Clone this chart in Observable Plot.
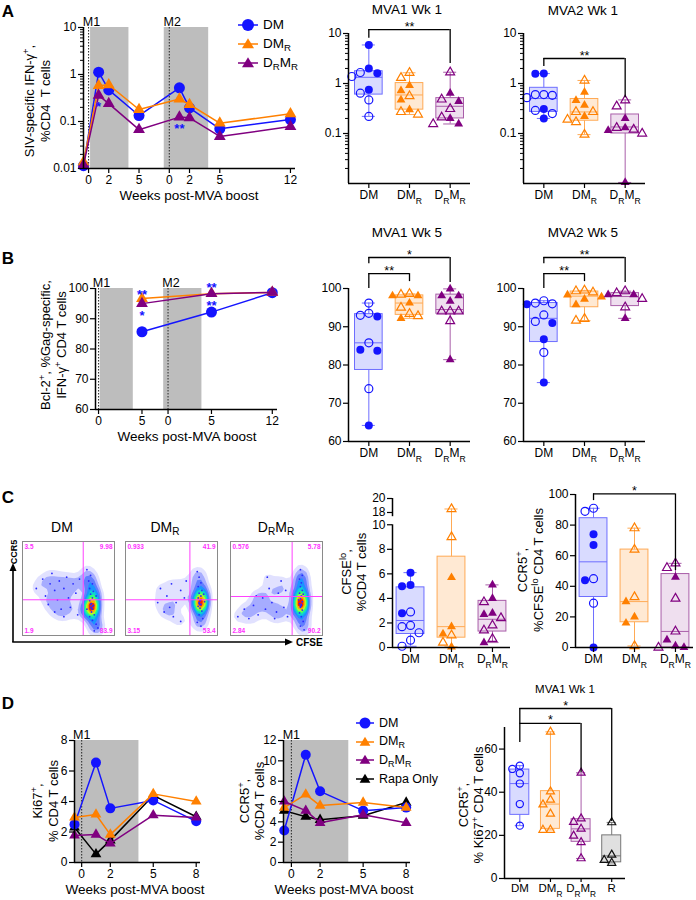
<!DOCTYPE html>
<html><head><meta charset="utf-8">
<script src="https://cdn.jsdelivr.net/npm/d3@7"></script>
<script src="https://cdn.jsdelivr.net/npm/@observablehq/plot@0.6"></script>
<style>
html,body{margin:0;padding:0;background:#fff;}
#fig{position:relative;width:696px;height:900px;overflow:hidden;font-family:"Liberation Sans",Arial,Helvetica,sans-serif;color:#000;}
#fig .t{position:absolute;white-space:nowrap;transform:translate(-50%,-50%);line-height:1;}
#fig .v{position:absolute;white-space:nowrap;transform:translate(-50%,-50%) rotate(-90deg);line-height:1;}
#fig sub{font-size:72%;vertical-align:-0.28em;line-height:0;}
#fig sup{font-size:72%;vertical-align:0.5em;line-height:0;}
#fig .leg{position:absolute;display:flex;align-items:center;white-space:nowrap;transform:translateY(-50%);line-height:1;}
</style></head><body><div id="fig"></div>
<script>
// ================= DATA =================
// Panel A (line): SIV-specific IFN-γ+ %CD4 T cells
const timePhase = ["M1","M1","M1","M1","M2","M2","M2","M2"];
const timeWeek  = [-0.5, 1, 2, 5, 1, 2, 5, 12];
const aDM   = [0.0115, 1.12, 0.47, 0.134, 0.52, 0.195, 0.070, 0.11];
const aDMR  = [0.0137, 0.58, 0.60, 0.18, 0.30, 0.23, 0.092, 0.146];
const aDRMR = [0.0118, 0.36, 0.24, 0.067, 0.124, 0.12, 0.048, 0.078];
const aTickPhase = ["M1","M1","M1","M2","M2","M2","M2"];
const aTickWeek  = [0, 2, 5, 0, 2, 5, 12];
const aStarPhase = ["M1","M2"], aStarWeek = [1, 1], aStarY = [0.21, 0.071], aStarText = ["*","**"];
const shadePhase = ["M1","M2"], shadeStart = [0.2, -0.5], shadeEnd = [4, 3.9];

// Panel A boxes (MVA1 Wk 1, MVA2 Wk 1): box = [min, q1, median, q3, max]
const A1 = {
  filled: [[5.9, 2.0, 1.6, 0.75], [0.91, 0.72, 0.47, 0.30], [0.64, 0.44, 0.2, 0.155]],
  open:   [[1.66, 1.38, 0.64, 0.47, 0.22], [1.64, 1.3, 0.56, 0.27, 0.24], [1.68, 0.48, 0.31, 0.21, 0.155]],
  box:    [[0.22, 0.6, 1.33, 1.76, 5.9], [0.24, 0.30, 0.59, 1.02, 1.64], [0.155, 0.2, 0.35, 0.51, 1.68]],
  brackets: [{from: 0, to: 2, y: 12, yFrom: 8, yTo: 2.5, label: "**"}]
};
const A2 = {
  filled: [[1.58, 1.56, 0.31, 0.2], [0.67, 0.46, 0.37, 0.22], [0.2, 0.13, 0.115, 0.0105]],
  open:   [[0.6, 0.6, 0.58, 0.52, 0.29, 0.25], [1.15, 0.27, 0.27, 0.19, 0.17, 0.095], [0.46, 0.35, 0.13, 0.12, 0.1]],
  box:    [[0.2, 0.27, 0.5, 0.82, 1.58], [0.095, 0.18, 0.27, 0.49, 1.15], [0.0105, 0.1, 0.135, 0.24, 0.47]],
  brackets: [{from: 0, to: 2, y: 3.16, yFrom: 2.2, yTo: 0.52, label: "**"}]
};

// Panel B (line): Bcl-2+ % of Gag-specific IFN-γ+ CD4 T cells
const bPhase = ["M1","M2","M2"], bWeek = [5, 5, 12];
const bDM   = [85.7, 92.2, 98.6];
const bDMR  = [96.7, 98.3, 98.7];
const bDRMR = [95.0, 98.3, 98.7];
const bTickPhase = ["M1","M1","M2","M2","M2"], bTickWeek = [0, 5, 0, 5, 12];
const bStarPhase = ["M1","M1","M2","M2"], bStarWeek = [5, 5, 5, 5], bStarY = [98.0, 91.1, 100.3, 94.4], bStarText = ["**","*","**","**"];

const B1 = {
  filled: [[92.7, 84.0, 83.7, 64.2], [98.1, 98.1, 96.2, 92.2], [99.9, 98.1, 98.1, 96.7, 81.4]],
  open:   [[96.2, 93.5, 93.0, 85.8, 73.8], [98.6, 98.4, 95.0, 93.4, 92.8], [94.0, 94.0, 94.0, 91.5]],
  box:    [[64.2, 78.7, 85.8, 93.3, 96.2], [92.2, 93.1, 96.2, 98.2, 98.6], [81.4, 93.4, 94.5, 98.4, 99.9]],
  brackets: [{from: 0, to: 1, y: 103.9, yFrom: 100, yTo: 101.8, label: "**"}, {from: 0, to: 2, y: 108.1, yFrom: 106.5, yTo: 101.6, label: "*"}]
};
const B2 = {
  filled: [[95.9, 91.0, 86.7, 75.4], [98.3, 97.8, 97.2, 95.8], [98.4, 98.4, 92.2]],
  open:   [[96.8, 96.2, 96.0, 93.1, 91.4, 83.3], [99.5, 99.3, 99.0, 92.1, 91.6], [99.3, 98.8, 97.3, 95.1]],
  box:    [[75.4, 86.0, 92.2, 96.2, 96.8], [91.6, 95.1, 98.0, 99.2, 99.5], [92.2, 95.4, 97.9, 98.8, 99.3]],
  brackets: [{from: 0, to: 1, y: 103.9, yFrom: 100, yTo: 101.8, label: "**"}, {from: 0, to: 2, y: 108.1, yFrom: 106.5, yTo: 101.6, label: "**"}]
};

// Panel C flow plots: representative events [CFSE %, CCR5 %], gates, quadrant percentages
const flowDM = [[15,50],[22,60],[25,42],[30,55],[32,66],[35,48],[38,38],[40,58],[42,28],[45,50],[48,62],[50,40],[52,30],[55,55],[58,45],[60,22],[35,25],[28,33],[45,20],[62,60],
  [70,70],[74,64],[72,58],[76,55],[73,50],[77,47],[74,44],[76,40],[73,37],[75,34],[77,32],[74,30],[76,28],[75,25],[78,22],[73,20],[76,16],[80,12],[82,8],[78,5],[80,42],[70,28],[74,33],[76,31],[75,29]];
const flowDMR = [[38,50],[45,42],[50,55],[55,35],[60,48],[64,40],[42,25],[52,20],[60,15],[48,30],[66,58],[35,35],
  [78,68],[80,62],[82,56],[79,52],[83,48],[80,45],[82,42],[79,40],[81,37],[80,35],[82,33],[79,31],[81,29],[83,26],[80,22],[84,18],[78,14],[82,10],[86,36],[85,44],[80,34],[81,33]];
const flowDRMR = [[8,20],[15,28],[20,18],[25,32],[30,22],[35,40],[38,28],[42,50],[45,35],[48,18],[52,45],[55,58],[58,30],[60,48],[62,20],[40,62],[28,42],[50,25],
  [76,70],[78,64],[75,60],[77,56],[76,52],[78,48],[75,45],[77,42],[76,39],[78,36],[75,34],[77,32],[76,30],[78,27],[75,24],[77,20],[79,15],[76,10],[80,6],[74,38],[79,44],[77,33],[76,31]];
const flowGateX = [66, 70, 67], flowGateY = [38, 38, 41.5];
const flowQuads = [["3.5","9.98","1.9","83.9"], ["0.933","41.9","3.15","53.4"], ["0.576","5.78","2.84","90.2"]];

// Panel C boxes
const C1 = { // CFSElo %CD4 T cells (broken axis)
  filled: [[6.1, 5.1, 5.0, 2.8], [5.7, 1.7, 1.1, 0.05], [5.1, 4.0, 2.8, 2.7, 0.4]],
  open:   [[2.9, 1.8, 1.7, 1.2, 0.6, 0.1], [18.5, 9.0, 1.0, 0.4], [3.7, 2.4, 1.8, 1.4, 0.7]],
  box:    [[0.1, 1.1, 2.2, 4.9, 6.1], [0.05, 0.8, 1.7, 7.4, 18.5], [0.4, 1.3, 2.3, 3.8, 5.1]]
};
const C2 = { // CCR5+ %CFSElo CD4 T cells
  filled: [[74, 67, 44, 0], [30, 20, 16], [46, 5, 1, 0]],
  open:   [[91, 89, 45, 29], [78, 64, 33, 1], [55, 52, 32, 10.5, 0]],
  box:    [[0, 33, 56, 84.5, 91], [1, 16.5, 30, 64, 78], [0, 0, 10.5, 48, 55]],
  brackets: [{from: 0, to: 2, y: 100.4, yFrom: 96, yTo: 50.3, label: "*"}]
};

// Panel D lines
const dWeek = [-0.5, 1, 2, 5, 8];
const kiDM = [2.5, 6.55, 3.55, 4.07, 2.7];
const kiDMR = [2.95, 3.15, 1.83, 4.5, 4.0];
const kiDRMR = [1.77, 1.83, 1.25, 3.1, 2.95];
const kiRapa = [2.3, 0.55, 1.45, 4.4, 3.0];
const ccDM = [3.15, 10.6, 7.0, 5.1, 5.4];
const ccDMR = [5.4, 6.7, 5.6, 5.9, 5.4];
const ccDRMR = [6.0, 5.1, 3.9, 4.7, 3.9];
const ccRapa = [5.1, 4.5, 4.2, 4.6, 5.9];

// Panel D box: CCR5+ % Ki67+ CD4 T cells, MVA1 Wk 1
const D1 = {
  open: [[52.3, 50.8, 48.8, 44, 34.5, 24.5], [68, 40.3, 36.5, 34.3, 30, 22.5, 22.5], [49, 27.8, 26.2, 23, 19.8, 16.8, 9.3], [26, 11, 8.5, 7.2]],
  box:  [[24.5, 29.5, 44, 50.5, 52.3], [22.5, 23, 34.5, 40.5, 68], [9.3, 17, 23, 27.5, 49], [7.2, 7.5, 10.5, 20, 26]],
  brackets: [{from: 0, to: 3, y: 78.8, yFrom: 71.9, yTo: 26.4, label: "*"}, {from: 0, to: 2, y: 71.9, yFrom: 63, yTo: 49.1, label: "*"}]
};

// ================= STYLE / HELPERS =================
const FONT = '"Liberation Sans", Arial, Helvetica, sans-serif';
const BLUE = "#1414ff", ORANGE = "#ff8000", PURPLE = "#800080";
const GS = {
  DM:   {color: BLUE,   fill: "#d9dbff", edge: "#6e6eff", symbol: "circle"},
  DMR:  {color: ORANGE, fill: "#ffe9d3", edge: "#ffaa55", symbol: "triangle"},
  DRMR: {color: PURPLE, fill: "#efdfef", edge: "#a95ea9", symbol: "triangle"},
  R:    {color: "#111", fill: "#e0e0e0", edge: "#777", symbol: "triangle"},
  Rapa: {color: "#000", symbol: "triangle"}
};
const GL = {DM: "DM", DMR: "DM_{R}", DRMR: "D_{R}M_{R}", R: "R"};
const STYLE = {fontFamily: FONT, fontSize: "12px", color: "#000", background: "transparent", overflow: "visible"};
const M2_OFFSET = 8;
const pos = (phase, week) => (phase === "M2" ? M2_OFFSET : 0) + week;
const minorLog = [0.01, 0.1, 1].flatMap(d => d3.range(2, 10).map(k => +(k * d).toPrecision(3)));

const fig = document.getElementById("fig");
function richify(root) {
  root.querySelectorAll("text, tspan").forEach(t => {
    if (t.children.length) return;
    const s = t.textContent;
    if (!/[_^]\{/.test(s)) return;
    t.textContent = "";
    const re = /([_^])\{([^}]*)\}/g; let last = 0, m;
    const add = (str, kind) => {
      if (!str) return;
      const ts = document.createElementNS("http://www.w3.org/2000/svg", "tspan");
      ts.textContent = str;
      if (kind) { ts.setAttribute("font-size", "0.72em"); ts.setAttribute("baseline-shift", kind === "_" ? "sub" : "super"); }
      t.appendChild(ts);
    };
    while ((m = re.exec(s))) { add(s.slice(last, m.index)); add(m[2], m[1]); last = re.lastIndex; }
    add(s.slice(last));
  });
}
function put(node, left, top) {
  node.style.position = "absolute"; node.style.left = left + "px"; node.style.top = top + "px";
  fig.appendChild(node); richify(node); return node;
}
function label(html, cx, cy, size, vertical) {
  const d = document.createElement("div");
  d.className = vertical ? "v" : "t";
  d.style.left = cx + "px"; d.style.top = cy + "px"; d.style.fontSize = size + "px";
  d.innerHTML = html; fig.appendChild(d);
}
function legend(items, left, top, gap, size, symW) {
  items.forEach((it, k) => {
    const st = GS[it.key];
    const c = symW / 2;
    const sym = st.symbol === "circle"
      ? `<circle cx="${c}" cy="7" r="${it.r}" fill="${st.color}"/>`
      : `<path d="M${c},${7 - it.r * 1.15}L${c + it.r * 1.2},${7 + it.r * 0.85}L${c - it.r * 1.2},${7 + it.r * 0.85}Z" fill="${st.color}"/>`;
    const d = document.createElement("div");
    d.className = "leg";
    d.style.left = left + "px"; d.style.top = (top + k * gap) + "px"; d.style.fontSize = size + "px";
    d.innerHTML = `<svg width="${symW}" height="14" style="margin-right:5px;overflow:visible"><line x1="0" y1="7" x2="${symW}" y2="7" stroke="${st.color}" stroke-width="1.5"/>${sym}</svg><span>${it.html}</span>`;
    fig.appendChild(d);
  });
}
function swarm(ys, step) {
  const order = ys.map((_, i) => i).sort((a, b) => ys[a] - ys[b] || a - b);
  const placed = [], out = [];
  for (const i of order) {
    let off = 0;
    for (let k = 0; k < 40; k++) {
      const c = k === 0 ? 0 : (k % 2 ? -1 : 1) * Math.ceil(k / 2) * step;
      if (placed.every(p => Math.hypot(p[0] - c, p[1] - ys[i]) >= step - 0.01)) { off = c; break; }
    }
    placed.push([off, ys[i]]); out[i] = off;
  }
  return out;
}

function lineChart(o) {
  const marks = [
    Plot.rect(o.shades, {x1: "x1", x2: "x2", y1: o.yDomain[0], y2: o.yDomain[1], fill: "#bdbdbd"}),
    Plot.ruleX(o.dotted, {stroke: "#333", strokeWidth: 1.1, strokeDasharray: "1.5,1.5"})
  ];
  for (const s of o.series) {
    const st = GS[s.key];
    const rows = s.values.map((v, i) => ({x: o.x[i], y: v}));
    marks.push(Plot.line(rows, {x: "x", y: "y", stroke: st.color, strokeWidth: 1.5}));
    marks.push(Plot.dot(rows, {x: "x", y: "y", symbol: st.symbol, r: st.symbol === "circle" ? o.rc : o.rt, fill: st.color, stroke: "none"}));
  }
  if (o.stars) marks.push(Plot.text(o.stars, {x: "x", y: "y", text: "text", fill: BLUE, fontSize: 13, fontWeight: "bold"}));
  marks.push(Plot.text(o.phases, {x: "x", text: "label", frameAnchor: "top", lineAnchor: "bottom", dy: -2, dx: o.phaseDx, fontSize: 12.5}));
  marks.push(Plot.ruleX([o.xDomain[0]], {strokeWidth: 1.5}));
  marks.push(Plot.ruleY([o.yDomain[0]], {strokeWidth: 1.5}));
  const yl = new Map(o.yTicks.map((v, i) => [v, o.yTickLabels[i]]));
  marks.push(Plot.axisY({ticks: o.yTicks, tickFormat: v => yl.get(v), tickSize: 5, tickPadding: 2, label: null, strokeWidth: 1.2}));
  if (o.yMinor) marks.push(Plot.axisY({ticks: o.yMinor, tickFormat: () => "", tickSize: 3, label: null, strokeWidth: 1}));
  const xl = new Map(o.xTicks.map((v, i) => [v, o.xTickLabels[i]]));
  marks.push(Plot.axisX({ticks: o.xTicks, tickFormat: v => xl.get(v), tickSize: 5, tickPadding: 2, label: null, strokeWidth: 1.2}));
  return Plot.plot({width: o.width, height: o.height, marginLeft: o.mL, marginRight: o.mR, marginTop: o.mT, marginBottom: o.mB,
    x: {domain: o.xDomain, axis: null}, y: {type: o.yType || "linear", domain: o.yDomain, axis: null}, style: STYLE, marks});
}

function boxChart(o) {
  const tf = o.tf || (v => v);
  const yType = o.yType || "linear";
  const yDom = o.yDomain.map(tf);
  const ypx = (yType === "log" ? d3.scaleLog() : d3.scaleLinear()).domain(yDom).range([o.height - o.mB, o.mT]);
  const upp = (o.xDomain[1] - o.xDomain[0]) / (o.width - o.mL - o.mR);
  const marks = [];
  o.groups.forEach((g, i) => {
    const st = GS[g];
    const b = o.box[i].map(tf);
    const row = [{i, min: b[0], q1: b[1], med: b[2], q3: b[3], max: b[4]}];
    marks.push(
      Plot.rect(row, {x1: d => d.i - o.half, x2: d => d.i + o.half, y1: "q1", y2: "q3", fill: st.fill, stroke: st.edge, strokeWidth: 1}),
      Plot.ruleX(row, {x: "i", y1: "q3", y2: "max", stroke: st.edge, strokeWidth: 1}),
      Plot.ruleX(row, {x: "i", y1: "min", y2: "q1", stroke: st.edge, strokeWidth: 1}),
      Plot.ruleY(row, {x1: d => d.i - o.cap, x2: d => d.i + o.cap, y: "max", stroke: st.edge, strokeWidth: 1}),
      Plot.ruleY(row, {x1: d => d.i - o.cap, x2: d => d.i + o.cap, y: "min", stroke: st.edge, strokeWidth: 1}),
      Plot.ruleY(row, {x1: d => d.i - o.half, x2: d => d.i + o.half, y: "med", stroke: st.edge, strokeWidth: 1})
    );
    const vals = [...(o.filled ? o.filled[i] : []).map(v => ({v, f: true})), ...o.open[i].map(v => ({v, f: false}))];
    const offs = swarm(vals.map(d => ypx(tf(d.v))), o.step);
    const pts = vals.map((d, j) => ({x: i + offs[j] * upp, y: tf(d.v), f: d.f}));
    const r = st.symbol === "circle" ? o.rc : o.rt;
    marks.push(
      Plot.dot(pts.filter(d => d.f), {x: "x", y: "y", symbol: st.symbol, r, fill: st.color, stroke: "none"}),
      Plot.dot(pts.filter(d => !d.f), {x: "x", y: "y", symbol: st.symbol, r, fill: "none", stroke: st.color, strokeWidth: 1.2})
    );
  });
  (o.brackets || []).forEach(bk => {
    const row = [bk];
    marks.push(
      Plot.ruleY(row, {x1: "from", x2: "to", y: "y", strokeWidth: 1.3}),
      Plot.ruleX(row, {x: "from", y1: "yFrom", y2: "y", strokeWidth: 1.3}),
      Plot.ruleX(row, {x: "to", y1: "yTo", y2: "y", strokeWidth: 1.3}),
      Plot.text(row, {x: d => (d.from + d.to) / 2, y: "y", text: "label", dy: -3, fontSize: 12.5})
    );
  });
  const segs = o.axisSegments || [o.yDomain];
  segs.forEach(s => marks.push(Plot.ruleX([o.xDomain[0]], {y1: tf(s[0]), y2: tf(s[1]), strokeWidth: 1.5})));
  marks.push(Plot.ruleY([yDom[0]], {strokeWidth: 1.5}));
  const yl = new Map(o.yTicks.map((v, i) => [tf(v), o.yTickLabels[i]]));
  marks.push(Plot.axisY({ticks: o.yTicks.map(tf), tickFormat: v => yl.get(v), tickSize: 5, tickPadding: 2, label: null, strokeWidth: 1.2}));
  if (o.yMinor) marks.push(Plot.axisY({ticks: o.yMinor, tickFormat: () => "", tickSize: 3, label: null, strokeWidth: 1}));
  marks.push(Plot.axisX({ticks: o.groups.map((_, i) => i), tickFormat: i => GL[o.groups[i]], tickSize: o.xTickSize ?? 5,
    tickPadding: o.xTickPadding ?? 2, fontSize: o.xFont ?? 12, label: null, strokeWidth: 1.2}));
  return Plot.plot({width: o.width, height: o.height, marginLeft: o.mL, marginRight: o.mR, marginTop: o.mT, marginBottom: o.mB,
    x: {domain: o.xDomain, axis: null}, y: {type: yType, domain: yDom, axis: null}, style: STYLE, marks});
}

const jetStops = ["rgba(50,50,255,0)", "rgba(50,50,255,0.22)", "rgba(40,90,255,0.55)", "#00b8ff", "#2cff7a", "#ffee00", "#ff2000"];
const jet = d3.piecewise(d3.interpolateRgb, jetStops);
function flowPlot(events, gx, gy, q) {
  const ex = events.map(d => ({x: d[0], y: d[1]}));
  const marks = [];
  if (Plot.density) marks.push(Plot.density(ex, {x: "x", y: "y", fill: "density", bandwidth: 3.6, thresholds: 10, clip: true}));
  marks.push(Plot.dot(ex, {x: "x", y: "y", r: 0.9, fill: "#2b2bff"}));
  marks.push(Plot.ruleX([gx], {stroke: "#ff40ff", strokeWidth: 1}), Plot.ruleY([gy], {stroke: "#ff40ff", strokeWidth: 1}));
  [["top-left", 2, 3, "start"], ["top-right", -2, 3, "end"], ["bottom-left", 2, -3, "start"], ["bottom-right", -2, -3, "end"]].forEach(([fa, dx, dy, ta], k) =>
    marks.push(Plot.text([q[k]], {text: d => d, frameAnchor: fa, dx, dy, textAnchor: ta, fill: "#ff30ff", fontSize: 6.5, fontWeight: "bold"})));
  marks.push(Plot.frame({stroke: "#8a8a8a"}));
  return Plot.plot({width: 94, height: 96, margin: 1, x: {domain: [0, 100], axis: null}, y: {domain: [0, 100], axis: null},
    color: {type: "linear", interpolate: jet}, style: STYLE, marks});
}

// ================= PANEL A =================
const shades = shadePhase.map((p, i) => ({x1: pos(p, shadeStart[i]), x2: pos(p, shadeEnd[i])}));
put(lineChart({
  width: 300, height: 200, mL: 83, mR: 5, mT: 27, mB: 32,
  xDomain: [-0.5, 20.5], yType: "log", yDomain: [0.01, 10],
  yTicks: [0.01, 0.1, 1, 10], yTickLabels: ["0.01", "0.1", "1", "10"], yMinor: minorLog,
  x: timePhase.map((p, i) => pos(p, timeWeek[i])),
  series: [{key: "DM", values: aDM}, {key: "DMR", values: aDMR}, {key: "DRMR", values: aDRMR}],
  shades, dotted: [pos("M1", 0), pos("M2", 0)],
  phases: [{x: pos("M1", 0), label: "M1"}, {x: pos("M2", 0), label: "M2"}], phaseDx: 3,
  stars: aStarPhase.map((p, i) => ({x: pos(p, aStarWeek[i]), y: aStarY[i], text: aStarText[i]})),
  xTicks: aTickPhase.map((p, i) => pos(p, aTickWeek[i])), xTickLabels: aTickWeek.map(String),
  rc: 5.5, rt: 4.4
}), 0, 0);

const boxCommon = {groups: ["DM", "DMR", "DRMR"], half: 0.34, cap: 0.16, rc: 4, rt: 3.3, step: 8.5};
put(boxChart({...boxCommon, ...A1, yType: "log", yDomain: [0.01, 10], yTicks: [0.1, 1, 10], yTickLabels: ["0.1", "1", "10"], yMinor: minorLog,
  width: 180, height: 205, mL: 48, mR: 10, mT: 33, mB: 22, xDomain: [-0.5, 2.5]}), 300, 0);
put(boxChart({...boxCommon, ...A2, yType: "log", yDomain: [0.01, 10], yTicks: [0.1, 1, 10], yTickLabels: ["0.1", "1", "10"], yMinor: minorLog,
  width: 180, height: 205, mL: 48, mR: 10, mT: 33, mB: 22, xDomain: [-0.5, 2.5]}), 475, 0);

// ================= PANEL B =================
put(lineChart({
  width: 290, height: 160, mL: 95, mR: 13, mT: 18, mB: 21,
  xDomain: [-0.35, 20.6], yDomain: [60, 100],
  yTicks: [60, 70, 80, 90, 100], yTickLabels: ["60", "70", "80", "90", "100"],
  x: bPhase.map((p, i) => pos(p, bWeek[i])),
  series: [{key: "DM", values: bDM}, {key: "DMR", values: bDMR}, {key: "DRMR", values: bDRMR}],
  shades, dotted: [pos("M1", 0), pos("M2", 0)],
  phases: [{x: pos("M1", 0), label: "M1"}, {x: pos("M2", 0), label: "M2"}], phaseDx: 3,
  stars: bStarPhase.map((p, i) => ({x: pos(p, bStarWeek[i]), y: bStarY[i], text: bStarText[i]})),
  xTicks: bTickPhase.map((p, i) => pos(p, bTickWeek[i])), xTickLabels: bTickWeek.map(String),
  rc: 5.5, rt: 4.4
}), 0, 270);

const bTicks = [60, 70, 80, 90, 100];
put(boxChart({...boxCommon, ...B1, yDomain: [60, 100], yTicks: bTicks, yTickLabels: bTicks.map(String),
  width: 180, height: 250, mL: 48, mR: 10, mT: 73, mB: 24, xDomain: [-0.5, 2.5]}), 300, 215);
put(boxChart({...boxCommon, ...B2, yDomain: [60, 100], yTicks: bTicks, yTickLabels: bTicks.map(String),
  width: 180, height: 250, mL: 48, mR: 10, mT: 73, mB: 24, xDomain: [-0.5, 2.5]}), 475, 215);

// ================= PANEL C =================
put(flowPlot(flowDM, flowGateX[0], flowGateY[0], flowQuads[0]), 21, 540);
put(flowPlot(flowDMR, flowGateX[1], flowGateY[1], flowQuads[1]), 124, 540);
put(flowPlot(flowDRMR, flowGateX[2], flowGateY[2], flowQuads[2]), 229, 540);
const cf = v => v <= 10 ? v : 11.0 + (v - 18) * 0.57;
const cfTicks = [0, 2, 4, 6, 8, 10, 18, 20];
put(boxChart({...boxCommon, ...C1, tf: cf, yDomain: [0, 20], yTicks: cfTicks, yTickLabels: cfTicks.map(String),
  axisSegments: [[0, 10], [17.4, 20]],
  width: 175, height: 180, mL: 52, mR: 5, mT: 8, mB: 23, xDomain: [-0.44, 2.44]}), 340, 490);
const ccTicks = [0, 20, 40, 60, 80, 100];
put(boxChart({...boxCommon, ...C2, yDomain: [0, 100], yTicks: ccTicks, yTickLabels: ccTicks.map(String),
  width: 181, height: 190, mL: 60, mR: 3, mT: 14, mB: 23, xDomain: [-0.44, 2.44]}), 515, 480);

// ================= PANEL D =================
put(lineChart({
  width: 210, height: 180, mL: 74, mR: 10, mT: 20, mB: 38,
  xDomain: [-0.5, 8.3], yDomain: [0, 8], yTicks: [0, 2, 4, 6, 8], yTickLabels: ["0", "2", "4", "6", "8"],
  x: dWeek, series: [{key: "Rapa", values: kiRapa}, {key: "DM", values: kiDM}, {key: "DMR", values: kiDMR}, {key: "DRMR", values: kiDRMR}],
  shades: [{x1: -0.45, x2: 4}], dotted: [0], phases: [{x: 0, label: "M1"}], phaseDx: 0,
  xTicks: [0, 2, 5, 8], xTickLabels: ["0", "2", "5", "8"], rc: 5, rt: 4
}), 0, 720);
put(lineChart({
  width: 200, height: 180, mL: 63, mR: 10, mT: 20, mB: 38,
  xDomain: [-0.55, 8.3], yDomain: [0, 12], yTicks: [0, 2, 4, 6, 8, 10, 12], yTickLabels: ["0", "2", "4", "6", "8", "10", "12"],
  x: dWeek, series: [{key: "Rapa", values: ccRapa}, {key: "DM", values: ccDM}, {key: "DMR", values: ccDMR}, {key: "DRMR", values: ccDRMR}],
  shades: [{x1: -0.5, x2: 4}], dotted: [0], phases: [{x: 0, label: "M1"}], phaseDx: 0,
  xTicks: [0, 2, 5, 8], xTickLabels: ["0", "2", "5", "8"], rc: 5, rt: 4
}), 220, 720);
const dTicks = [0, 20, 40, 60];
put(boxChart({groups: ["DM", "DMR", "DRMR", "R"], ...D1, half: 0.31, cap: 0.15, rc: 3.6, rt: 3, step: 7.5,
  yDomain: [0, 70], yTicks: dTicks, yTickLabels: dTicks.map(String), xTickSize: 4, xTickPadding: 1, xFont: 11.5,
  width: 180, height: 210, mL: 54, mR: 5, mT: 38, mB: 21, xDomain: [-0.5, 3.45]}), 450, 689);

// ================= TEXT / LEGENDS =================
label("<b>A</b>", 8, 11, 17); label("<b>B</b>", 8, 258, 17); label("<b>C</b>", 8, 497, 17); label("<b>D</b>", 8, 703, 17);
label("MVA1 Wk 1", 407, 10, 13.5); label("MVA2 Wk 1", 583, 11, 13.5);
label("MVA1 Wk 5", 407, 233, 13.5); label("MVA2 Wk 5", 583, 233, 13.5);
label("MVA1 Wk 1", 565, 690, 11.5);
label("Weeks post-MVA boost", 189, 196, 13.5); label("Weeks post-MVA boost", 187, 437, 13.5);
label("Weeks post-MVA boost", 135, 890, 13.5); label("Weeks post-MVA boost", 344, 890, 13.5);
label("SIV-specific IFN-γ<sup>+</sup>,", 29, 101, 13, true); label("%CD4&nbsp;&nbsp;T cells", 45, 101, 13, true);
label("Bcl-2<sup>+</sup>, %Gag-specific,", 45, 345, 13, true); label("IFN-γ<sup>+</sup> CD4 T cells", 61, 345, 13, true);
label("CFSE<sup>lo</sup>,", 346, 572, 13, true); label("%CD4 T cells", 361, 572, 13, true);
label("CCR5<sup>+</sup>,", 522, 570, 13, true); label("%CFSE<sup>lo</sup> CD4 T cells", 538, 570, 13, true);
label("Ki67<sup>+</sup>,", 37, 801, 13, true); label("% CD4 T cells", 53, 801, 13, true);
label("CCR5<sup>+</sup>,", 244, 801, 13, true); label("%CD4 T cells", 259, 801, 13, true);
label("CCR5<sup>+</sup>,", 463, 805, 13, true); label("% Ki67<sup>+</sup> CD4 T cells", 478, 805, 13, true);
label("DM", 62, 527, 14); label("DM<sub>R</sub>", 165, 527, 14); label("D<sub>R</sub>M<sub>R</sub>", 276, 527, 14);

legend([{key: "DM", html: "DM", r: 6}, {key: "DMR", html: "DM<sub>R</sub>", r: 5}, {key: "DRMR", html: "D<sub>R</sub>M<sub>R</sub>", r: 5}], 238, 25, 19, 13.5, 20);
legend([{key: "DM", html: "DM", r: 5.5}, {key: "DMR", html: "DM<sub>R</sub>", r: 4.5}, {key: "DRMR", html: "D<sub>R</sub>M<sub>R</sub>", r: 4.5}, {key: "Rapa", html: "Rapa Only", r: 4.5}], 356, 723, 18.7, 12.5, 18);

// flow-cytometry axis arrows
const ov = document.createElement("div");
ov.style.cssText = "position:absolute;left:0;top:530px;width:330px;height:120px;";
ov.innerHTML = `<svg width="330" height="120" style="overflow:visible;font-family:${FONT.replace(/"/g, "'")}">
<line x1="13" y1="112" x2="13" y2="40" stroke="#000" stroke-width="1.6"/><path d="M13,33L9.5,41L16.5,41Z" fill="#000"/>
<text transform="translate(16.5,22) rotate(-90)" text-anchor="middle" font-weight="bold" font-size="9">CCR5</text>
<line x1="12.2" y1="112" x2="286" y2="112" stroke="#000" stroke-width="1.6"/><path d="M293,112L285,108.5L285,115.5Z" fill="#000"/>
<text x="296" y="115.5" font-weight="bold" font-size="10">CFSE</text></svg>`;
fig.appendChild(ov);
</script></body></html>
